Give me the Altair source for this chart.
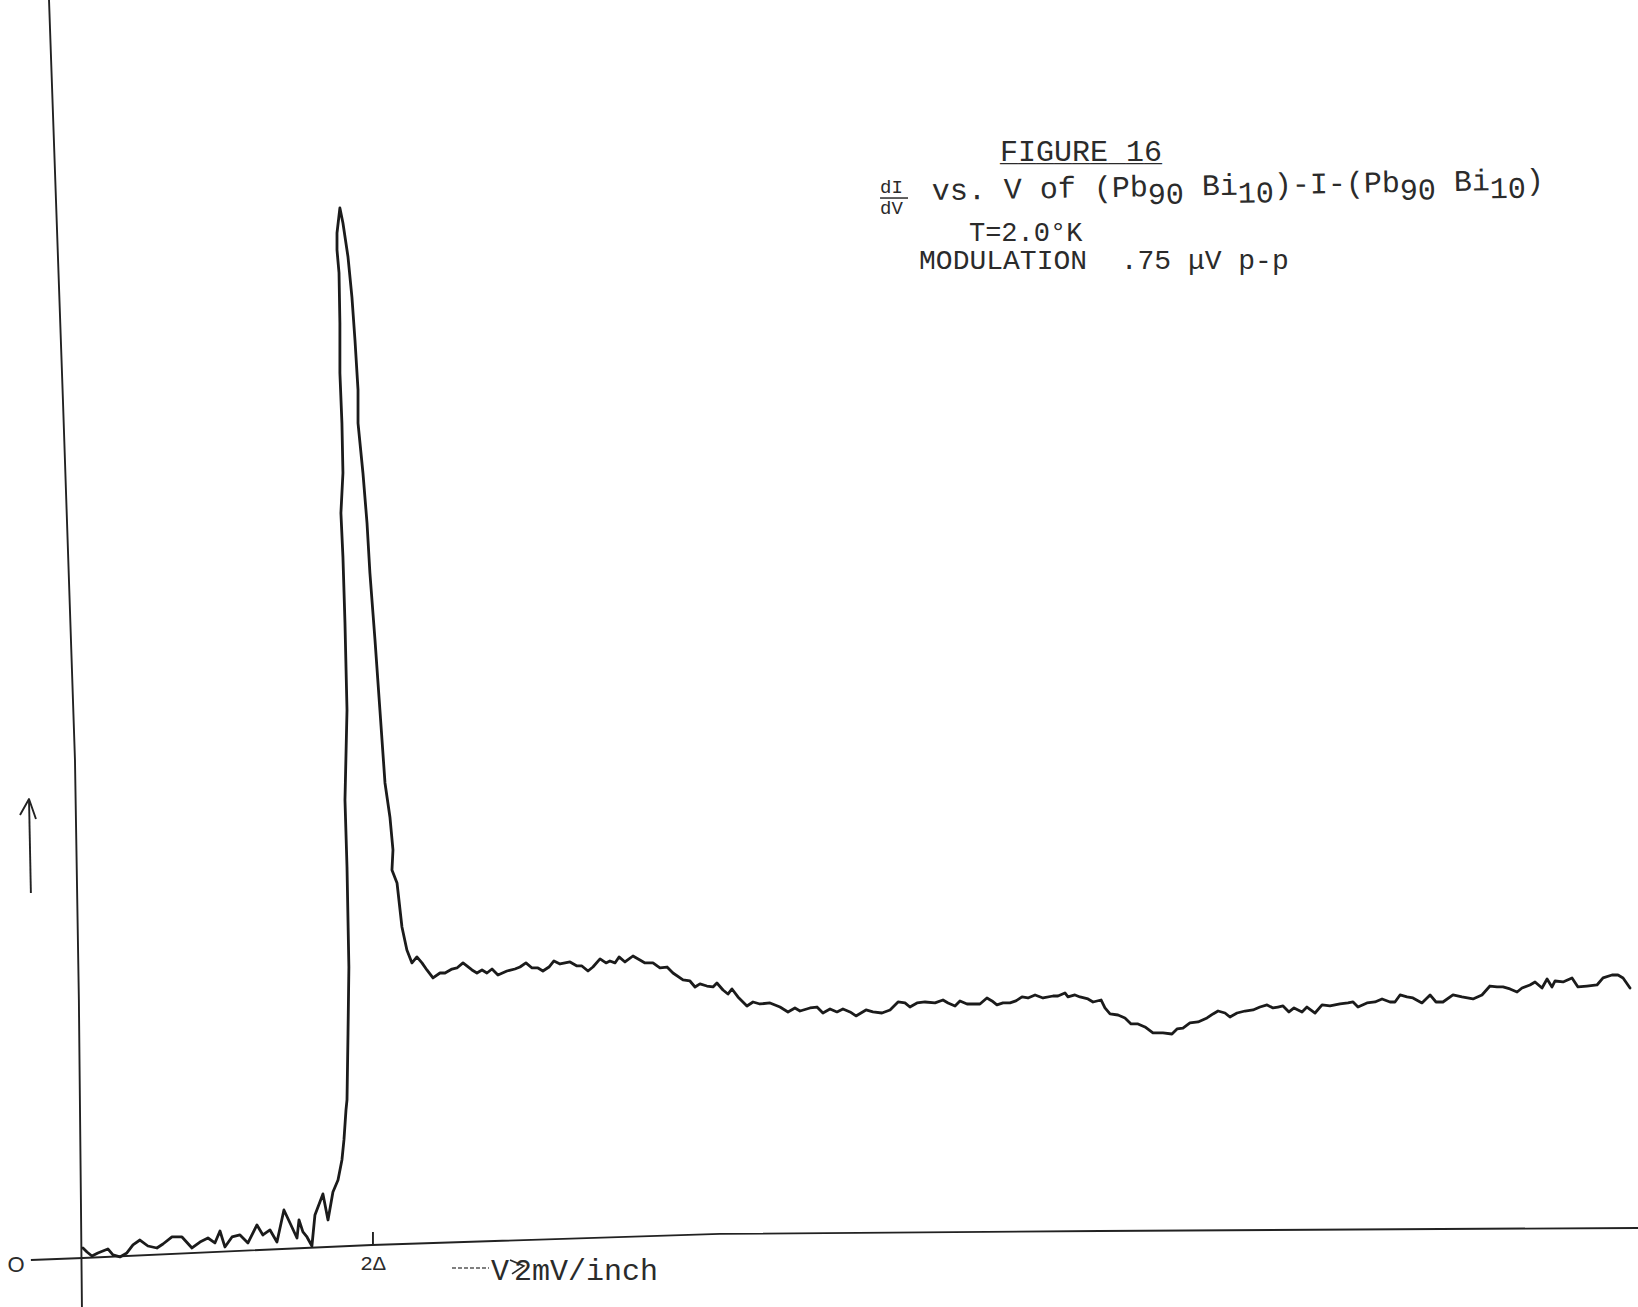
import altair as alt
import pandas as pd

# ---------------- data ----------------
# bias V in units of Delta (tick "2Δ"), dI/dV in arbitrary units (peak = 10)
V = [0.000,0.028,0.062,0.103,0.172,0.207,0.255,0.303,0.345,0.393,0.448,0.510,0.552,0.614,0.683,0.752,0.807,0.862,0.910,0.945,
     0.979,1.028,1.083,1.138,1.200,1.241,1.290,1.338,1.386,1.428,1.476,1.490,1.517,1.545,1.579,1.600,1.655,1.690,1.724,1.759,
     1.786,1.800,1.814,
     1.821,1.828,1.834,1.821,1.807,1.821,1.807,1.793,1.779,1.793,1.786,1.772,1.772,1.766,1.752,1.752,1.772,
     1.793,1.828,1.855,1.876,1.897,1.897,1.931,1.959,1.979,2.014,2.048,2.083,2.117,2.138,2.131,2.166,2.200,2.234,2.269,2.303,
     2.338,2.372,2.414,2.462,2.497,2.545,2.579,2.621,2.683,2.717,2.752,2.786,2.821,2.862,2.924,2.979,3.014,3.055,3.097,3.138,
     3.172,3.214,3.248,3.290,3.359,3.407,3.441,3.483,3.517,3.566,3.607,3.634,3.669,3.697,3.738,3.793,3.841,3.876,3.931,3.979,
     4.028,4.069,4.138,4.186,4.221,4.255,4.303,4.345,4.372,4.414,4.448,4.476,4.517,4.579,4.621,4.669,4.738,4.807,4.862,4.910,
     4.945,5.014,5.062,5.103,5.152,5.200,5.241,5.290,5.331,5.400,5.448,5.510,5.566,5.621,5.669,5.703,5.752,5.807,5.876,5.931,
     5.966,6.014,6.048,6.097,6.138,6.186,6.234,6.269,6.303,6.345,6.393,6.434,6.476,6.517,6.566,6.621,6.690,6.724,6.772,6.793,
     6.841,6.876,6.931,6.966,7.021,7.048,7.083,7.138,7.186,7.228,7.276,7.324,7.379,7.448,7.510,7.545,7.586,7.634,7.690,7.752,
     7.793,7.828,7.876,7.910,7.959,8.014,8.069,8.117,8.166,8.207,8.241,8.276,8.317,8.352,8.407,8.441,8.497,8.545,8.600,8.669,
     8.724,8.759,8.793,8.855,8.910,8.959,9.014,9.048,9.083,9.131,9.172,9.234,9.290,9.331,9.379,9.448,9.510,9.586,9.648,9.703,
     9.752,9.793,9.841,9.890,9.924,9.979,10.014,10.062,10.097,10.131,10.152,10.207,10.269,10.310,10.372,10.441,10.483,10.545,
     10.586,10.621,10.669]
G = [0.095,0.057,0.019,0.048,0.086,0.029,0.010,0.048,0.124,0.171,0.114,0.095,0.133,0.200,0.200,0.095,0.152,0.190,0.143,0.257,
     0.105,0.200,0.219,0.143,0.314,0.219,0.267,0.152,0.457,0.333,0.190,0.362,0.248,0.200,0.114,0.410,0.610,0.362,0.629,0.743,
     0.933,1.124,1.410,
     1.505,2.143,2.771,3.724,4.362,5.219,6.048,6.676,7.095,7.476,7.952,8.429,8.905,9.381,9.600,9.762,10.000,
     9.857,9.533,9.152,8.743,8.267,7.952,7.476,7.000,6.524,5.886,5.219,4.524,4.200,3.886,3.695,3.571,3.152,2.933,2.810,2.867,
     2.810,2.743,2.667,2.714,2.714,2.752,2.762,2.810,2.743,2.714,2.743,2.714,2.752,2.695,2.733,2.752,2.771,2.810,2.762,2.762,
     2.733,2.771,2.829,2.800,2.819,2.781,2.781,2.733,2.771,2.848,2.810,2.829,2.810,2.867,2.819,2.876,2.838,2.810,2.810,2.762,
     2.771,2.714,2.648,2.638,2.581,2.610,2.590,2.581,2.619,2.552,2.514,2.562,2.486,2.400,2.438,2.419,2.429,2.390,2.343,2.381,
     2.352,2.381,2.390,2.333,2.371,2.343,2.371,2.343,2.305,2.362,2.343,2.333,2.362,2.438,2.429,2.390,2.429,2.438,2.429,2.457,
     2.429,2.400,2.448,2.419,2.419,2.419,2.476,2.448,2.410,2.429,2.429,2.448,2.486,2.476,2.505,2.476,2.495,2.495,2.524,2.486,
     2.505,2.486,2.467,2.438,2.457,2.381,2.324,2.314,2.286,2.229,2.229,2.200,2.143,2.143,2.133,2.181,2.190,2.238,2.248,2.286,
     2.324,2.352,2.333,2.295,2.333,2.352,2.362,2.390,2.410,2.381,2.390,2.400,2.343,2.381,2.343,2.390,2.333,2.410,2.400,2.419,
     2.429,2.438,2.390,2.429,2.438,2.467,2.438,2.438,2.505,2.486,2.476,2.429,2.505,2.438,2.438,2.505,2.486,2.467,2.505,2.590,
     2.581,2.581,2.562,2.533,2.571,2.600,2.629,2.571,2.657,2.581,2.638,2.629,2.667,2.581,2.590,2.600,2.667,2.695,2.695,
     2.667,2.571]
assert len(V) == len(G), (len(V), len(G))

# hand-drawn axes on the chart paper (slightly skewed in the scan)
BASE_V = [-0.359, 0.0, 1.993, 4.393, 7.014, 10.724]
BASE_G = [-0.019, 0.0, 0.124, 0.229, 0.257, 0.286]
YAX_V = [-0.234, -0.138, -0.055, -0.028, -0.014, -0.007]
YAX_G = [11.981, 8.171, 4.743, 2.457, 0.552, -0.467]

TICK_V = [2.0]
TICK_LABELS = ["2\u0394"]

# ---------------- styling ----------------
FONT = "Liberation Mono"
INK = "#1b1b1b"
TYPE = "#2b2b2b"
X_DOMAIN = [-0.572, 10.724]
Y_DOMAIN = [-0.467, 11.981]
xs = alt.Scale(domain=X_DOMAIN, nice=False, zero=False)
ys = alt.Scale(domain=Y_DOMAIN, nice=False, zero=False)


def X(f="x"):
    return alt.X(f"{f}:Q", scale=xs, axis=None)


def Y(f="y"):
    return alt.Y(f"{f}:Q", scale=ys, axis=None)


def path(xv, yv, **mk):
    df = pd.DataFrame({"x": xv, "y": yv, "i": list(range(len(xv)))})
    return alt.Chart(df).mark_line(**mk).encode(x=X(), y=Y(), order="i:Q")


NB = "\u00a0"


def nb(s):
    return s.replace(" ", NB)


def texts(rows, **mk):
    base = dict(font=FONT, color=TYPE, align="left", baseline="alphabetic")
    base.update(mk)
    return alt.Chart(pd.DataFrame(rows)).mark_text(**base).encode(x=X(), y=Y(), text="t:N")


curve = path(V, G, color=INK, strokeWidth=2.8, strokeJoin="round", strokeCap="round")
xaxis = path(BASE_V, BASE_G, color="#222222", strokeWidth=1.9)
yaxis = path(YAX_V, YAX_G, color="#222222", strokeWidth=1.9)

tick_df = pd.DataFrame({"x": TICK_V, "y": [0.124], "y2": [0.248], "t": TICK_LABELS, "ly": [0.05]})
ticks = alt.Chart(tick_df).mark_rule(color="#222222", strokeWidth=1.9).encode(x=X(), y=Y(), y2="y2:Q")
tick_lab = alt.Chart(tick_df).mark_text(font=FONT, fontSize=21, color=TYPE, baseline="top").encode(
    x=X(), y=Y("ly"), text="t:N")

zero_lab = texts([{"x": -0.462, "y": -0.067, "t": "O"}], font="Liberation Sans", fontSize=22,
                 align="center", baseline="middle")

# left arrow
arrow_shaft = path([-0.372, -0.359], [4.371, 3.476], color="#222222", strokeWidth=1.9)
arrow_head = path([-0.434, -0.372, -0.324], [4.219, 4.371, 4.181], color="#222222", strokeWidth=1.9,
                  strokeJoin="round")

# x label "---V -> 2mV/inch"
xl_dash = path([2.545, 2.800], [-0.095, -0.095], color="#555555", strokeWidth=1.4, strokeDash=[4, 2])
xl_head = path([2.945, 3.041, 2.959], [-0.019, -0.076, -0.152], color=TYPE, strokeWidth=1.6)
xl_text = texts([{"x": 2.876, "y": -0.210, "t": "V"}], fontSize=30, align="center")
xl_unit = texts([{"x": 2.972, "y": -0.210, "t": "2mV/inch"}], fontSize=30)

# title block
fig = texts([{"x": 6.883, "y": 10.448, "t": "FIGURE 16"},
             {"x": 6.883, "y": 10.448, "t": "_________"}], fontSize=30, align="center")
frac = texts([{"x": 5.497, "y": 10.143, "t": "dI"},
              {"x": 5.497, "y": 9.943, "t": "dV"}], fontSize=19)
frac_bar = path([5.497, 5.690], [10.095, 10.095], color=TYPE, strokeWidth=1.5)
line2_main = nb("vs. V of (Pb   Bi  )-I-(Pb   Bi  )")
l2 = texts([{"x": 5.855, "y": 10.076, "t": line2_main}], fontSize=30, angle=359)
# subscripts, typed half a line lower
l2s = texts([{"x": 7.345, "y": 10.038, "t": "90"},
             {"x": 7.966, "y": 10.050, "t": "10"},
             {"x": 9.083, "y": 10.078, "t": "90"},
             {"x": 9.703, "y": 10.092, "t": "10"}], fontSize=30, angle=359)
l3 = texts([{"x": 6.110, "y": 9.686, "t": nb("T=2.0\u00b0K")}], fontSize=27)
l4 = texts([{"x": 5.766, "y": 9.419, "t": nb("MODULATION  .75 \u03bcV p-p")}], fontSize=28)

chart = alt.layer(
    xaxis, yaxis, ticks, tick_lab, zero_lab, arrow_shaft, arrow_head,
    xl_dash, xl_head, xl_text, xl_unit,
    fig, frac, frac_bar, l2, l2s, l3, l4,
    curve,
).properties(
    width=1638, height=1307, padding=0, autosize="none", background="white"
).configure_view(stroke=None)

chart.save("out.html", embed_options={"renderer": "svg", "actions": False})
